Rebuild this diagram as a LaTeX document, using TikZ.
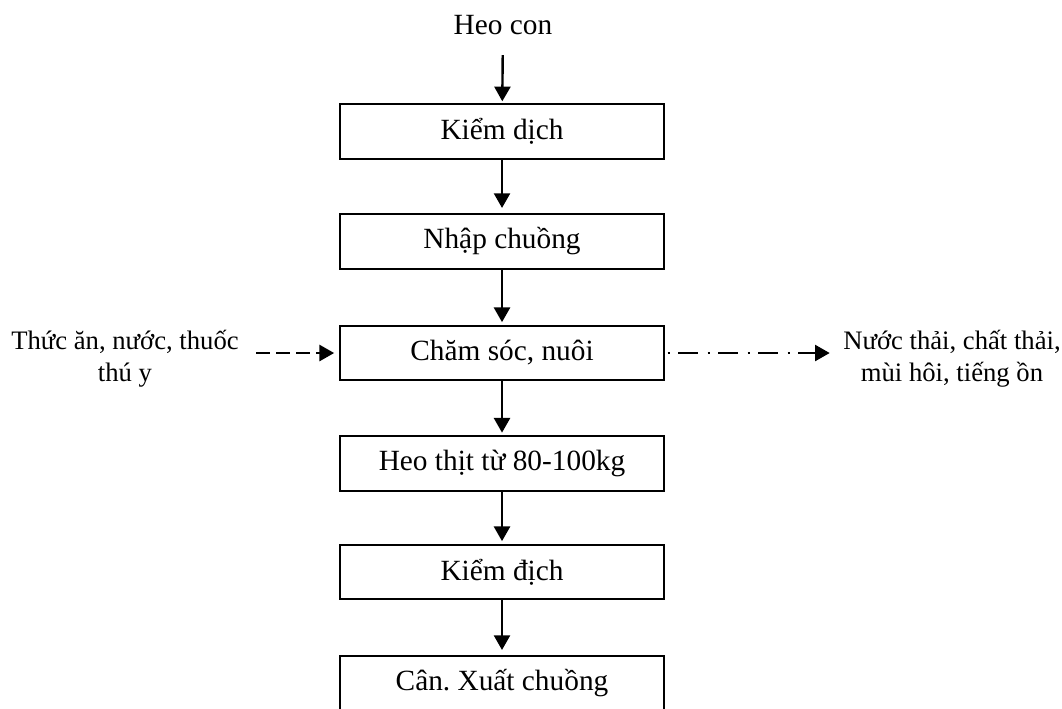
\documentclass[tikz,border=0pt]{standalone}
\usepackage{fontspec}
\setmainfont{Liberation Serif}
\usetikzlibrary{arrows.meta}

\begin{document}
\begin{tikzpicture}[x=0.75pt,y=-0.75pt,
  font=\fontsize{22}{26}\selectfont,
  box/.style={draw,line width=1.3pt,minimum width=243pt,minimum height=41pt,inner sep=0pt},
  txt/.style={align=center,inner sep=0pt},
  side/.style={txt,font=\fontsize{20}{24}\selectfont},
  arr/.style={line width=1.8pt,-{Triangle[width=12pt,length=11pt]}}]
\useasboundingbox (0,0) rectangle (1062,708);
% cac buoc chinh
\node[txt] (heo) at (503,25) {Heo con};
\node[box] (kd1) at (502,131.5) {Kiểm dịch};
\node[box] (nc) at (502,241.5) {Nhập chuồng};
\node[box] (cs) at (502,353) {Chăm sóc, nuôi};
\node[box] (ht) at (502,463.5) {Heo thịt từ 80-100kg};
\node[box] (kd2) at (502,572) {Kiểm địch};
\node[box] (xc) at (502,683.5) {Cân.\ Xuất chuồng};
% dau vao, dau ra
\node[side] (inp) at (125,359) {Thức ăn, nước, thuốc\\thú y};
\node[side] (out) at (952,359) {Nước thải, chất thải,\\mùi hôi, tiếng ồn};
\draw[arr,shorten <=15pt,shorten >=1.5pt] (heo) -- (kd1);
\draw[arr,shorten >=4pt] (kd1) -- (nc);
\draw[arr,shorten >=2pt] (nc) -- (cs);
\draw[arr,shorten >=2pt] (cs) -- (ht);
\draw[arr,shorten >=2pt] (ht) -- (kd2);
\draw[arr,shorten >=4pt] (kd2) -- (xc);
\draw[arr,dash pattern=on 10pt off 5pt,shorten <=13pt,shorten >=3.75pt] (inp.east |- cs.west) -- (cs.west);
\draw[arr,dash pattern=on 1.5pt off 6.5pt on 15pt off 7pt,shorten <=2pt,shorten >=10pt] (cs.east) -- (out.west |- cs.east);
\end{tikzpicture}
\end{document}
